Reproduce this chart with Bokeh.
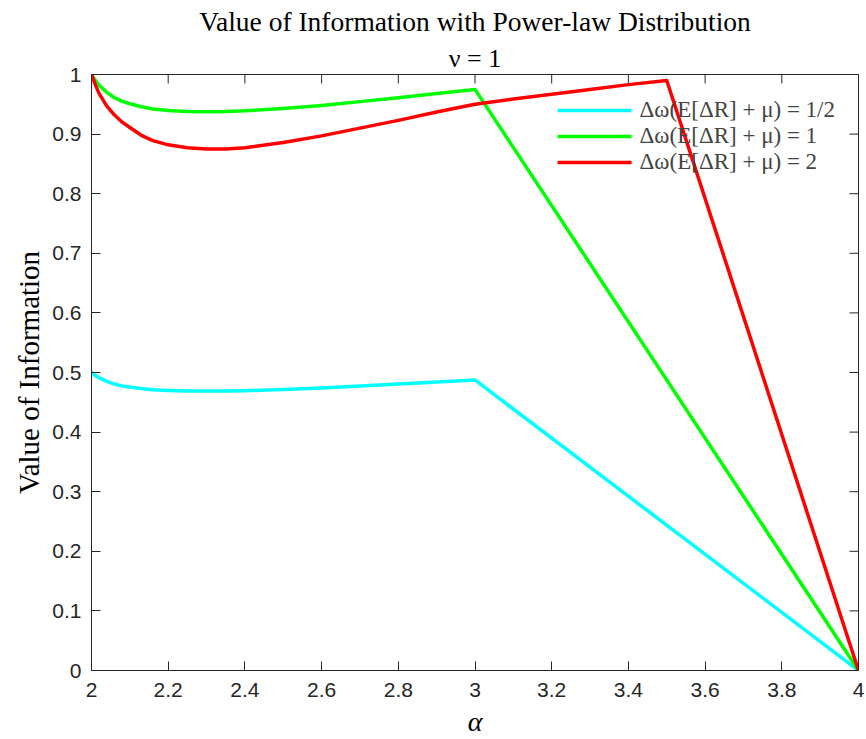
import numpy as np
from bokeh.plotting import figure
from bokeh.models import (ColumnDataSource, FixedTicker, Title,
                          Legend, LegendItem)
from bokeh.embed import file_html
from bokeh.resources import INLINE

# ---------------- data ----------------
alpha_half = [2.0, 2.01, 2.02, 2.04, 2.06, 2.08, 2.1, 2.13, 2.16, 2.2, 2.25,
              2.3, 2.35, 2.4, 2.5, 2.6, 2.7, 2.8, 2.9, 3.0, 4.0]
voi_half = [0.5, 0.495, 0.491, 0.485, 0.4805, 0.4775, 0.4755, 0.473, 0.471,
            0.4698, 0.469, 0.4688, 0.4689, 0.4695, 0.4715, 0.474, 0.4772,
            0.4805, 0.484, 0.4875, 0.0]

alpha_one = [2.0, 2.01, 2.02, 2.04, 2.06, 2.08, 2.1, 2.13, 2.16, 2.2, 2.25,
             2.3, 2.35, 2.4, 2.5, 2.6, 2.7, 2.8, 2.9, 3.0, 4.0]
voi_one = [1.0, 0.990, 0.982, 0.970, 0.961, 0.955, 0.951, 0.946, 0.942,
           0.9395, 0.938, 0.9375, 0.9378, 0.939, 0.943, 0.948, 0.9545,
           0.961, 0.968, 0.975, 0.0]

alpha_two = [2.0, 2.01, 2.02, 2.04, 2.06, 2.08, 2.1, 2.13, 2.16, 2.2, 2.25,
             2.3, 2.35, 2.4, 2.5, 2.6, 2.7, 2.8, 2.9, 3.0, 3.1, 3.2, 3.3,
             3.4, 3.5, 4.0]
voi_two = [1.0, 0.983, 0.968, 0.947, 0.932, 0.920, 0.911, 0.898, 0.889,
           0.882, 0.877, 0.875, 0.875, 0.877, 0.886, 0.897, 0.910, 0.923,
           0.937, 0.950, 0.959, 0.967, 0.975, 0.983, 0.990, 0.0]

series_labels = ["\u0394\u03c9(E[\u0394R] + \u03bc) = 1/2",
                 "\u0394\u03c9(E[\u0394R] + \u03bc) = 1",
                 "\u0394\u03c9(E[\u0394R] + \u03bc) = 2"]
series_colors = ["#00FFFF", "#00FF00", "#FF0000"]

x_ticks = [2.0, 2.2, 2.4, 2.6, 2.8, 3.0, 3.2, 3.4, 3.6, 3.8, 4.0]
x_tick_labels = ["2", "2.2", "2.4", "2.6", "2.8", "3", "3.2", "3.4", "3.6",
                 "3.8", "4"]
y_ticks = [0.0, 0.1, 0.2, 0.3, 0.4, 0.5, 0.6, 0.7, 0.8, 0.9, 1.0]
y_tick_labels = ["0", "0.1", "0.2", "0.3", "0.4", "0.5", "0.6", "0.7", "0.8",
                 "0.9", "1"]

title_text = "Value of Information with Power-law Distribution"
subtitle_text = "\u03bd = 1"
x_label = "\u03b1"
y_label = "Value of Information"

# ---------------- figure ----------------
AX = "#262626"
SERIF = "Liberation Serif"
SANS = "Liberation Sans"

x_lo, x_hi = x_ticks[0], x_ticks[-1]
y_lo, y_hi = y_ticks[0], y_ticks[-1]

p = figure(width=866, height=739, x_range=(x_lo, x_hi), y_range=(y_lo, y_hi),
           output_backend="svg", toolbar_location=None,
           min_border_left=91, min_border_right=8,
           min_border_top=74, min_border_bottom=69)
p.background_fill_color = "white"
p.border_fill_color = "white"
p.outline_line_color = AX
p.outline_line_width = 1
p.grid.grid_line_color = None

# inward tick marks on the top and right edges (MATLAB box style);
# markers are centred on the frame edge, so only the inner half shows
p.scatter(x=x_ticks, y=[y_hi] * len(x_ticks), marker="dash", angle=np.pi / 2,
          size=18, line_color=AX, line_width=1)
p.scatter(x=[x_hi] * len(y_ticks), y=y_ticks, marker="dash",
          size=18, line_color=AX, line_width=1)

sources = [
    ColumnDataSource(dict(x=alpha_half, y=voi_half)),
    ColumnDataSource(dict(x=alpha_one, y=voi_one)),
    ColumnDataSource(dict(x=alpha_two, y=voi_two)),
]
renderers = []
for src, col in zip(sources, series_colors):
    r = p.line("x", "y", source=src, line_color=col, line_width=3.5,
               line_join="round", line_cap="round")
    renderers.append(r)


def style_axis(ax):
    ax.axis_line_color = AX
    ax.axis_line_width = 1
    ax.major_tick_line_color = AX
    ax.major_tick_line_width = 1
    ax.major_tick_in = 9
    ax.major_tick_out = 0
    ax.minor_tick_line_color = None
    ax.major_label_text_font = SANS
    ax.major_label_text_font_size = "21px"
    ax.major_label_text_color = AX


xa = p.xaxis[0]
xa.ticker = FixedTicker(ticks=x_ticks)
xa.major_label_overrides = {t: s for t, s in zip(x_ticks, x_tick_labels)}
style_axis(xa)
xa.major_label_standoff = 12
xa.axis_label = x_label
xa.axis_label_text_font = SERIF
xa.axis_label_text_font_style = "italic"
xa.axis_label_text_font_size = "28px"
xa.axis_label_text_color = "black"
xa.axis_label_standoff = 6

ya = p.yaxis[0]
ya.ticker = FixedTicker(ticks=y_ticks)
ya.major_label_overrides = {t: s for t, s in zip(y_ticks, y_tick_labels)}
style_axis(ya)
ya.major_label_standoff = 10
ya.axis_label = y_label
ya.axis_label_text_font = SERIF
ya.axis_label_text_font_style = "normal"
ya.axis_label_text_font_size = "29px"
ya.axis_label_text_color = "black"
ya.axis_label_standoff = 4

p.add_layout(Title(text=subtitle_text, align="center", text_font=SERIF,
                   text_font_size="26px", text_font_style="normal",
                   text_color="black", standoff=4,
                   text_line_height=0.85), "above")
p.add_layout(Title(text=title_text, align="center", text_font=SERIF,
                   text_font_size="27.5px", text_font_style="normal",
                   text_color="black", standoff=5,
                   text_line_height=0.85), "above")

legend = Legend(
    items=[LegendItem(label=lab, renderers=[r])
           for lab, r in zip(series_labels, renderers)],
    location="top_right", background_fill_alpha=0, border_line_alpha=0,
    glyph_width=74, glyph_height=20, label_height=25,
    label_text_font=SERIF, label_text_font_size="23px",
    label_standoff=8, spacing=0, padding=0, margin=23)
p.add_layout(legend)

open("out.html", "w").write(file_html(p, INLINE))
